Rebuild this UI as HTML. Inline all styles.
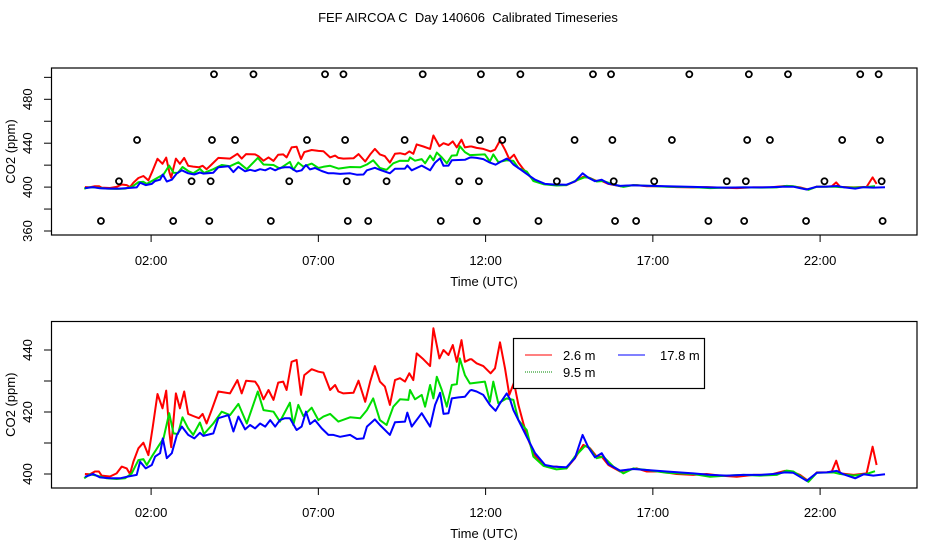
<!DOCTYPE html>
<html><head><meta charset="utf-8"><style>
html,body{margin:0;padding:0;background:#fff}
svg{display:block}
text{font-family:"Liberation Sans",sans-serif;fill:#000}
</style></head><body>
<svg id="chart" width="936" height="540" viewBox="0 0 936 540" xmlns="http://www.w3.org/2000/svg">
<text x="468" y="22" font-size="13" text-anchor="middle" style="white-space:pre">FEF AIRCOA C  Day 140606  Calibrated Timeseries</text>
<g id="toppanel"></g>
<g id="botpanel"></g>
</svg>
<script>
const hourTicks=[2,7,12,17,22];
const hourLabels=["02:00","07:00","12:00","17:00","22:00"];
const redH=[0.02,0.17,0.32,0.44,0.52,0.77,0.97,1.12,1.27,1.37,1.47,1.62,1.77,1.92,2.05,2.19,2.34,2.45,2.55,2.60,2.66,2.74,2.86,2.99,3.11,3.26,3.43,3.54,3.66,3.81,4.01,4.36,4.58,4.71,4.84,5.11,5.21,5.36,5.51,5.66,5.80,5.95,6.05,6.20,6.35,6.48,6.58,6.80,7.00,7.15,7.35,7.50,7.60,7.75,8.05,8.20,8.40,8.55,8.69,8.84,8.99,9.14,9.29,9.44,9.59,9.72,9.84,9.94,10.14,10.34,10.44,10.62,10.74,10.89,11.02,11.14,11.28,11.38,11.53,11.58,11.73,11.93,12.15,12.28,12.43,12.58,12.71,12.85,12.98,13.13,13.28,13.43,13.63,13.82,14.12,14.42,14.67,14.92,15.12,15.32,15.47,15.67,16.02,16.22,16.52,16.82,17.21,17.71,18.21,18.61,19.01,19.51,20.01,20.50,20.95,21.15,21.40,21.65,21.90,22.20,22.35,22.48,22.60,23.00,23.39,23.57,23.69];
const redV=[400.0,399.9,400.8,400.8,399.5,399.2,400.2,402.4,401.8,400.0,404.0,408.3,410.1,406.1,415.3,425.8,421.2,426.9,413.1,408.6,416.3,426.0,421.2,426.6,419.4,418.7,418.0,419.4,416.3,420.6,426.6,426.0,430.3,426.0,430.1,429.8,428.2,424.1,427.1,423.9,429.5,429.8,427.1,436.2,436.8,425.5,431.9,433.8,433.0,432.7,427.1,428.7,426.6,426.0,426.2,430.1,423.3,429.8,434.8,429.8,428.2,422.3,430.3,430.9,429.8,432.5,430.3,438.9,437.0,434.8,447.0,437.3,440.0,438.4,441.6,436.2,443.2,436.2,437.0,437.0,435.7,434.8,432.5,434.1,442.5,434.1,425.5,429.5,422.3,416.3,411.0,406.7,404.0,402.4,402.4,401.8,405.1,409.4,408.3,405.6,405.6,402.9,400.8,401.3,401.8,400.8,400.8,400.0,399.7,400.0,399.5,399.1,399.7,399.7,401.0,400.8,399.7,397.7,400.5,400.5,400.8,404.3,400.2,399.7,400.2,408.8,402.9];
const greenH=[0.0,0.17,0.37,0.67,0.97,1.22,1.42,1.62,1.77,1.87,2.02,2.22,2.37,2.54,2.67,2.80,2.94,3.11,3.26,3.46,3.58,3.86,4.11,4.36,4.61,4.86,5.19,5.36,5.66,5.85,6.15,6.25,6.40,6.55,6.80,7.00,7.15,7.35,7.60,7.95,8.25,8.45,8.64,8.84,9.04,9.24,9.44,9.69,9.74,9.89,10.09,10.19,10.34,10.44,10.54,10.69,10.84,10.99,11.14,11.23,11.38,11.53,11.98,12.13,12.23,12.38,12.63,12.83,12.98,13.23,13.43,13.73,14.12,14.42,14.67,14.97,15.07,15.32,15.52,15.82,16.12,16.42,16.82,17.41,18.21,18.71,19.21,19.71,20.20,20.70,21.00,21.20,21.40,21.65,21.90,22.40,22.60,23.00,23.39,23.64];
const greenV=[398.6,399.9,399.5,398.6,398.4,398.6,400.2,404.5,404.8,402.9,405.6,409.0,411.5,419.6,413.1,412.9,418.3,414.7,412.6,416.6,412.9,416.3,420.1,419.0,422.6,416.3,426.6,420.6,420.1,416.9,423.0,415.8,422.3,418.7,421.4,417.4,418.5,419.4,416.9,418.3,418.0,420.6,424.4,417.4,415.8,421.7,424.1,423.9,427.1,424.1,425.5,421.7,428.7,424.4,431.4,427.1,421.7,428.7,429.0,437.3,431.9,429.2,429.8,423.3,429.8,422.8,424.4,423.9,417.4,414.2,405.6,402.6,401.5,401.8,405.6,409.0,408.8,405.1,405.6,402.4,400.2,401.8,401.3,400.4,400.0,399.1,399.5,399.7,399.5,399.7,401.1,400.8,399.4,397.5,400.4,400.5,400.0,399.5,400.0,400.9];
const blueH=[0.02,0.27,0.47,0.77,1.07,1.27,1.57,1.67,1.84,2.02,2.12,2.27,2.35,2.47,2.62,2.77,2.92,3.11,3.29,3.46,3.56,3.86,4.01,4.31,4.46,4.61,4.81,4.96,5.11,5.26,5.41,5.56,5.71,5.85,6.00,6.15,6.35,6.50,6.63,6.75,6.90,7.10,7.30,7.45,7.65,7.95,8.15,8.35,8.45,8.69,8.84,9.14,9.29,9.59,9.66,9.79,10.09,10.34,10.49,10.64,10.74,10.89,10.99,11.19,11.38,11.53,11.58,11.73,11.93,12.13,12.30,12.43,12.63,12.73,12.83,13.03,13.23,13.48,13.78,14.03,14.42,14.67,14.90,15.07,15.27,15.47,15.67,16.02,16.42,16.82,17.41,18.21,18.71,19.21,19.71,20.20,20.60,20.95,21.20,21.40,21.60,21.90,22.20,22.50,22.70,23.05,23.30,23.59,23.94];
const blueV=[399.1,400.0,398.9,398.6,398.6,399.1,399.7,404.0,401.8,402.9,405.6,406.7,411.5,405.1,406.7,412.6,415.3,412.6,411.5,413.3,412.3,413.1,418.0,419.0,413.7,418.5,414.4,415.8,414.7,416.3,415.3,417.4,415.3,417.4,418.0,418.0,414.2,415.3,420.1,416.1,417.4,414.7,412.6,412.6,412.0,412.6,411.3,411.5,415.3,417.6,415.8,412.6,416.7,416.9,419.8,415.3,419.6,415.3,422.3,426.2,419.4,419.6,424.4,424.7,424.9,426.9,427.1,426.6,425.5,422.3,420.4,422.8,426.0,424.1,420.6,416.3,412.0,406.7,402.9,402.4,402.2,405.1,412.6,408.6,405.4,406.7,403.2,401.1,401.6,401.3,400.8,400.2,399.7,399.5,399.7,399.7,400.0,400.5,400.4,399.1,397.8,400.4,400.5,401.0,399.9,398.6,399.9,399.5,399.9];
const flagH=[3.88,5.06,7.20,7.75,10.12,11.86,13.04,15.21,15.75,18.09,19.87,21.04,23.20,23.75,
1.58,3.82,4.51,6.66,7.80,9.58,11.83,12.50,14.66,15.79,17.57,19.82,20.50,22.66,23.79,
1.04,3.21,3.78,6.13,7.85,9.04,11.21,11.80,14.13,15.83,17.04,19.21,19.78,22.13,23.84,
0.50,2.66,3.74,5.58,7.88,8.49,10.66,11.74,13.58,15.87,16.50,18.66,19.73,21.58,23.87];
const flagV=[502.8,502.8,502.8,502.8,502.8,502.8,502.8,502.8,502.8,502.8,502.8,502.8,502.8,502.8,
442.9,442.9,442.9,442.9,442.9,442.9,442.9,442.9,442.9,442.9,442.9,442.9,442.9,442.9,442.9,
405.3,405.3,405.3,405.3,405.3,405.3,405.3,405.3,405.3,405.3,405.3,405.3,405.3,405.3,405.3,
369.1,369.1,369.1,369.1,369.1,369.1,369.1,369.1,369.1,369.1,369.1,369.1,369.1,369.1,369.1];
const topTicks=[360,380,400,420,440,460,480,500];
const topLabels=[360,400,440,480];
const botTicks=[400,410,420,430,440];
const botLabels=[400,420,440];

const NS="http://www.w3.org/2000/svg";
function el(tag,attrs,parent){const e=document.createElementNS(NS,tag);for(const k in attrs)e.setAttribute(k,attrs[k]);parent.appendChild(e);return e;}
const xS=h=>84.2+33.45*h;

function panel(g,name,box,yS,ticks,labels,xTickY){
  const r=el('rect',{x:box[0],y:box[1],width:box[2]-box[0],height:box[3]-box[1],fill:'none',stroke:'#000','stroke-width':1.2},g);
  
  
  ticks.forEach(v=>{const t=el('line',{x1:44,x2:box[0],y1:yS(v),y2:yS(v),stroke:'#000','stroke-width':1},g);
    
    });
  el('line',{x1:box[0],x2:box[0],y1:yS(ticks[ticks.length-1]),y2:yS(ticks[0]),stroke:'#000'},g);
  labels.forEach(v=>{const t=el('text',{x:0,y:0,'font-size':13,'text-anchor':'middle',transform:`translate(32,${yS(v)}) rotate(-90)`},g);t.textContent=v;
    
    });
  hourTicks.forEach((h,i)=>{const t=el('line',{x1:xS(h),x2:xS(h),y1:box[3],y2:box[3]+7,stroke:'#000'},g);
    
    
    const l=el('text',{x:xS(h),y:xTickY,'font-size':13,'text-anchor':'middle'},g);l.textContent=hourLabels[i];
    
    });
  const xt=el('text',{x:484,y:xTickY+21,'font-size':13,'text-anchor':'middle'},g);xt.textContent='Time (UTC)';
  
  
  const yt=el('text',{x:0,y:0,'font-size':13,'text-anchor':'middle',transform:`translate(15,${(box[1]+box[3])/2}) rotate(-90)`},g);yt.textContent='CO2 (ppm)';
  
  
  const cp=el('clipPath',{id:name+'clip'},g);el('rect',{x:box[0],y:box[1],width:box[2]-box[0],height:box[3]-box[1]},cp);
  const series=[[redH,redV,'#ff0000','red-2.6m'],[greenH,greenV,'#00dd00','green-9.5m'],[blueH,blueV,'#0000ff','blue-17.8m']];
  series.forEach(s=>{const d=s[0].map((h,i)=>(i?'L':'M')+xS(h).toFixed(1)+','+yS(s[1][i]).toFixed(1)).join('');
    const p=el('path',{d:d,fill:'none',stroke:s[2],'stroke-width':2,'stroke-linejoin':'round','clip-path':`url(#${name}clip)`},g);
    
    });
}

const gTop=document.getElementById('toppanel'),gBot=document.getElementById('botpanel');
const yT=v=>231-(v-360)*1.0975;
panel(gTop,'top',[51.5,68,917,235],yT,topTicks,topLabels,265);
flagH.forEach((h,i)=>{const c=el('circle',{cx:xS(h),cy:yT(flagV[i]),r:3,fill:'none',stroke:'#000','stroke-width':1.8},gTop);
  
  });
const yB=v=>474-(v-400)*3.1;
panel(gBot,'bottom',[51.5,321.5,917,488],yB,botTicks,botLabels,517);

const lg=el('g',{},gBot);


el('rect',{x:513.5,y:338.5,width:191,height:50,fill:'#fff',stroke:'#000','stroke-width':1.2},lg);
const items=[[525,355,'#ff0000','2.6 m',null],[525,372,'#008800','9.5 m','1,1'],[618,355,'#0000ff','17.8 m',null]];
items.forEach(it=>{const e=el('g',{},lg);
  
  
  const ln=el('line',{x1:it[0],x2:it[0]+27,y1:it[1],y2:it[1],stroke:it[2],'stroke-width':1},e);
  if(it[4])ln.setAttribute('stroke-dasharray',it[4]);
  const t=el('text',{x:it[0]+38+(it[3]==='17.8 m'?4:0),y:it[1]+5,'font-size':13},e);t.textContent=it[3];});
</script>
</body></html>
